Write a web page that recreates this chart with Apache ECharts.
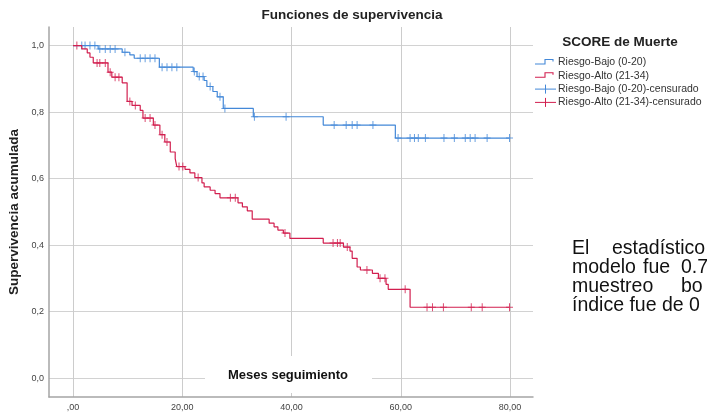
<!DOCTYPE html>
<html>
<head>
<meta charset="utf-8">
<script src="https://cdn.jsdelivr.net/npm/echarts@6/dist/echarts.min.js"></script>
<style>
  html, body { margin: 0; padding: 0; background: #fff; }
  #chart { width: 707px; height: 413px; }
</style>
</head>
<body>
<div id="chart"></div>
<script>
// Kaplan–Meier survival by SCORE risk group; time in months of follow-up.
const xTicks = [0, 20, 40, 60, 80];
const yTicks = [0, 0.2, 0.4, 0.6, 0.8, 1.0];

// Low risk (0-20): event times and survival after each step
const bajoEventTimes = [0, 4.6, 9.0, 10.4, 11.2, 15.8, 22.0, 22.7, 24.0, 24.5, 25.6, 26.4, 27.5, 33.0, 45.8, 59.0];
const bajoSurvival   = [1.0, 0.99, 0.98, 0.972, 0.962, 0.935, 0.922, 0.907, 0.895, 0.877, 0.862, 0.846, 0.811, 0.786, 0.761, 0.722];
const bajoCensored   = [1.6, 2.2, 3.1, 4.0, 4.9, 5.9, 6.8, 7.7, 9.5, 12.3, 13.2, 14.1, 15.0, 16.3, 17.2, 18.1, 19.0,
                        22.2, 23.1, 23.8, 25.1, 26.9, 27.8, 33.2, 39.0, 47.8, 50.0, 51.1, 52.0, 54.9,
                        59.5, 61.7, 62.5, 63.2, 64.5, 67.9, 69.8, 71.8, 72.7, 73.6, 75.8, 79.9];

// High risk (21-34)
const altoEventTimes = [0, 1.6, 2.6, 3.1, 3.7, 6.4, 7.1, 9.0, 9.9, 10.8, 12.3, 12.8, 14.7, 15.9, 16.8, 17.8, 18.7, 19.0,
                        20.5, 21.4, 22.3, 23.6, 24.0, 25.1, 26.0, 26.9, 30.2, 31.0, 31.9, 32.8, 35.9, 36.8, 37.5, 38.5,
                        39.7, 45.8, 49.5, 50.7, 51.1, 52.0, 52.6, 54.8, 55.9, 57.3, 57.7, 61.7];
const altoSurvival   = [1.0, 0.99, 0.978, 0.965, 0.948, 0.92, 0.905, 0.888, 0.832, 0.82, 0.805, 0.782, 0.761, 0.732, 0.71, 0.68, 0.66, 0.636,
                        0.628, 0.617, 0.603, 0.587, 0.575, 0.565, 0.555, 0.542, 0.527, 0.515, 0.503, 0.478, 0.466, 0.455, 0.445, 0.436,
                        0.42, 0.406, 0.394, 0.382, 0.36, 0.334, 0.325, 0.315, 0.30, 0.282, 0.267, 0.213];
const altoCensored   = [0.7, 4.4, 4.9, 5.9, 6.8, 7.7, 8.4, 10.4, 11.4, 13.2, 14.1, 15.0, 16.3, 17.2, 19.4, 20.1, 22.9,
                        28.8, 29.7, 38.8, 47.6, 48.4, 48.9, 50.2, 53.8, 56.2, 57.1, 60.8, 64.8, 65.8, 67.8, 72.9, 74.9, 79.9];

const groupNames = ['Riesgo-Bajo (0-20)', 'Riesgo-Alto (21-34)'];
const colors = ['#4388d8', '#d21f4f'];

// justified paragraph next to the chart, one entry per word group
const paragraphWords = [
  ['El', 'estadístico'],
  ['modelo', 'fue', '0.7'],
  ['muestreo', 'bo'],
  ['índice fue de 0']
];

const FONT = '"Liberation Sans", Arial, sans-serif';

function survivalAt(times, surv, t) {
  let s = surv[0];
  for (let i = 0; i < times.length; i++) if (times[i] <= t) s = surv[i];
  return s;
}
function stepData(times, surv, censored) {
  const pts = times.map((t, i) => [t, surv[i]]);
  const end = Math.max(times[times.length - 1], ...censored);
  pts.push([end, surv[surv.length - 1]]);
  return pts;
}
function censorData(times, surv, censored) {
  return censored.map(t => [t, survivalAt(times, surv, t)]);
}

const plusSymbol = 'path://M3,0H4V8H3Z M0,3.5H7V4.5H0Z';

const chart = echarts.init(document.getElementById('chart'), null, { renderer: 'canvas' });

// legend rows
const legendX = 535, legendTextX = 558;
const rowY = [62.5, 75.8, 89.1, 102.4];
const legendGraphics = [];
function stepIcon(cy, color) {
  return { type: 'polyline', z: 50,
    shape: { points: [[legendX, cy + 1.5], [legendX + 10, cy + 1.5], [legendX + 10, cy - 3], [legendX + 18, cy - 3], [legendX + 18, cy - 1]] },
    style: { stroke: color, lineWidth: 1.1, fill: null } };
}
function plusIcon(cy, color) {
  return [
    { type: 'line', z: 50, shape: { x1: legendX, y1: cy, x2: legendX + 21, y2: cy }, style: { stroke: color, lineWidth: 1 } },
    { type: 'line', z: 50, shape: { x1: legendX + 10.5, y1: cy - 4.5, x2: legendX + 10.5, y2: cy + 4.5 }, style: { stroke: color, lineWidth: 1 } }
  ];
}
const legendLabels = [groupNames[0], groupNames[1], groupNames[0] + '-censurado', groupNames[1] + '-censurado'];
legendGraphics.push(stepIcon(rowY[0], colors[0]));
legendGraphics.push(stepIcon(rowY[1], colors[1]));
legendGraphics.push(...plusIcon(rowY[2], colors[0]));
legendGraphics.push(...plusIcon(rowY[3], colors[1]));
legendLabels.forEach((txt, i) => {
  legendGraphics.push({ type: 'text', z: 50, x: legendTextX, y: rowY[i],
    style: { text: txt, font: '10.5px ' + FONT, fill: '#333', textVerticalAlign: 'middle', textAlign: 'left' } });
});

// word positions of the justified paragraph
const paraX = [
  [572, 612],
  [572, 643, 681],
  [572, 681],
  [572]
];
const paraBaseline = [259, 278, 297, 316];
const paragraphGraphics = [];
paragraphWords.forEach((words, li) => {
  words.forEach((w, wi) => {
    paragraphGraphics.push({ type: 'text', x: paraX[li][wi], y: paraBaseline[li], z: 50,
      style: { text: w, font: '19.5px ' + FONT, fill: '#111', textVerticalAlign: 'bottom' } });
  });
});

const option = {
  animation: false,
  backgroundColor: '#fff',
  grid: { left: 49, right: 174, top: 27, bottom: 16 },
  xAxis: {
    type: 'value', min: -4.4, max: 84.2,
    axisLine: { show: true, onZero: false, lineStyle: { color: '#a5a5a5', width: 1.5 } },
    axisTick: { show: false, customValues: xTicks },
    axisLabel: { customValues: xTicks, fontSize: 9, color: '#444', margin: 6, fontFamily: FONT,
      formatter: v => v === 0 ? ',00' : v.toFixed(2).replace('.', ',') },
    splitLine: { show: true, lineStyle: { color: '#cccccc', width: 1 } }
  },
  yAxis: {
    type: 'value', min: -0.057, max: 1.056,
    axisLine: { show: true, onZero: false, lineStyle: { color: '#a5a5a5', width: 1.5 } },
    axisTick: { show: false, customValues: yTicks },
    axisLabel: { customValues: yTicks, fontSize: 9, color: '#444', margin: 5, fontFamily: FONT,
      formatter: v => v.toFixed(1).replace('.', ',') },
    splitLine: { show: true, lineStyle: { color: '#d2d2d2', width: 1 } }
  },
  series: [
    { name: groupNames[0], type: 'line', step: 'end', showSymbol: false, silent: true,
      lineStyle: { color: colors[0], width: 1.2 }, data: stepData(bajoEventTimes, bajoSurvival, bajoCensored) },
    { name: groupNames[1], type: 'line', step: 'end', showSymbol: false, silent: true,
      lineStyle: { color: colors[1], width: 1.2 }, data: stepData(altoEventTimes, altoSurvival, altoCensored) },
    { name: groupNames[0] + '-censurado', type: 'scatter', symbol: plusSymbol, symbolSize: [7, 8], silent: true,
      itemStyle: { color: colors[0] }, data: censorData(bajoEventTimes, bajoSurvival, bajoCensored) },
    { name: groupNames[1] + '-censurado', type: 'scatter', symbol: plusSymbol, symbolSize: [7, 8], silent: true,
      itemStyle: { color: colors[1] }, data: censorData(altoEventTimes, altoSurvival, altoCensored) }
  ],
  graphic: [
    { type: 'text', x: 352, y: 15, z: 50,
      style: { text: 'Funciones de supervivencia', font: 'bold 13.5px ' + FONT, fill: '#222', textAlign: 'center', textVerticalAlign: 'middle' } },
    { type: 'text', x: 14, y: 212, rotation: Math.PI / 2, z: 50,
      style: { text: 'Supervivencia acumulada', font: 'bold 13.5px ' + FONT, fill: '#222', textAlign: 'center', textVerticalAlign: 'middle' } },
    { type: 'rect', z: 40, shape: { x: 205, y: 356, width: 167, height: 37 }, style: { fill: '#fff' } },
    { type: 'text', x: 288, y: 375, z: 50,
      style: { text: 'Meses seguimiento', font: 'bold 13px ' + FONT, fill: '#111', textAlign: 'center', textVerticalAlign: 'middle' } },
    { type: 'text', x: 620, y: 42.5, z: 50,
      style: { text: 'SCORE de Muerte', font: 'bold 13.5px ' + FONT, fill: '#222', textAlign: 'center', textVerticalAlign: 'middle' } },
    ...legendGraphics,
    ...paragraphGraphics
  ]
};
chart.setOption(option);
</script>
</body>
</html>
